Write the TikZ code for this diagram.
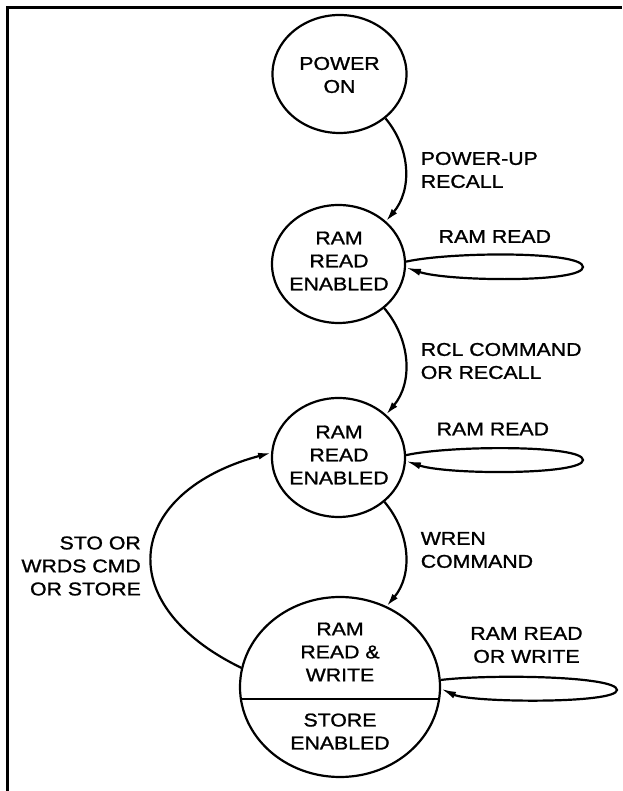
\documentclass[tikz,border=0pt]{standalone}
\usepackage{fontspec}
\setmainfont{Liberation Sans}[FakeStretch=1.15,FakeBold=1.2]
\usetikzlibrary{arrows.meta,shapes.geometric}
\begin{document}
\begin{tikzpicture}[x=1pt,y=1pt,
  every node/.style={font=\fontsize{18.5}{23}\selectfont},
  st/.style={draw, line width=2.2pt, ellipse, inner sep=0pt},
  small/.style={st, minimum width=133pt, minimum height=118pt},
  txt/.style={inner sep=0pt, align=center},
  lbl/.style={inner sep=0pt, align=left, anchor=west},
  arr/.style={line width=2.2pt, -{Latex[length=13pt,width=7pt]}},
  loop/.style={line width=2.2pt, -{Latex[length=15pt,width=7pt]}},
]
\useasboundingbox (0,0) rectangle (622,791);
% frame
\coordinate (fb) at (7.5,0);
\coordinate (fc) at (7.5,783.5);
\coordinate (fr) at (622,783.5);
\draw[line width=2.6pt] (fb) -- (fc) -- (fr);

% states
\node[small, minimum width=134pt] (pwr) at (339.5,717) {};
\node[small] (ram1) at (338.5,527) {};
\node[small, minimum height=119pt] (ram2) at (338.5,333.5) {};
\node[st, minimum width=200pt, minimum height=180pt] (bot) at (340,104) {};
\draw[line width=2.2pt] (bot.-7.5) -- (bot.187.5);

\node[txt] (tpwr) at (339.5,716) {POWER\\ON};
\node[txt] (tram1) at (339,530) {RAM\\READ\\ENABLED};
\node[txt] (tram2) at (339,336) {RAM\\READ\\ENABLED};
\node[txt] (tbot1) at (340,139) {RAM\\READ \&\\WRITE};
\node[txt] (tbot2) at (340,59.5) {STORE\\ENABLED};

% transitions
\draw[arr] (pwr.-44) to[out=-50,in=50] (ram1.42);
\draw[arr] (ram1.-44) to[out=-50,in=50] (ram2.42);
\draw[arr] (ram2.-44) to[out=-50,in=50] (bot.60);
\draw[arr] (bot.169) to[out=154,in=195,looseness=1.75] (ram2.176);

% self loops
\coordinate (r1) at (583,524);
\coordinate (r2) at (583,331);
\coordinate (r3) at (617,101);
\draw[loop] (ram1.2) .. controls +(45,10) and +(0,16) .. (r1) .. controls +(0,-16) and +(42,-14) .. (ram1.-3);
\draw[loop] (ram2.2) .. controls +(45,10) and +(0,15) .. (r2) .. controls +(0,-15) and +(42,-14) .. (ram2.-3);
\draw[loop] (bot.4) .. controls +(50,6) and +(0,14) .. (r3) .. controls +(0,-14) and +(30,-14) .. (bot.-1);

% labels
\node[lbl] (l1) at (420.6,621) {POWER-UP\\RECALL};
\node[lbl] (l2) at (438.5,554.5) {RAM READ};
\node[lbl] (l3) at (420.6,430) {RCL COMMAND\\OR RECALL};
\node[lbl] (l4) at (436.5,362) {RAM READ};
\node[lbl] (l5) at (420.6,241) {WREN\\COMMAND};
\node[inner sep=0pt, align=right, anchor=east] (l6) at (141,225) {STO OR\\WRDS CMD\\OR STORE};
\node[txt] (l7) at (526.5,146) {RAM READ\\OR WRITE};
\end{tikzpicture}
\end{document}
